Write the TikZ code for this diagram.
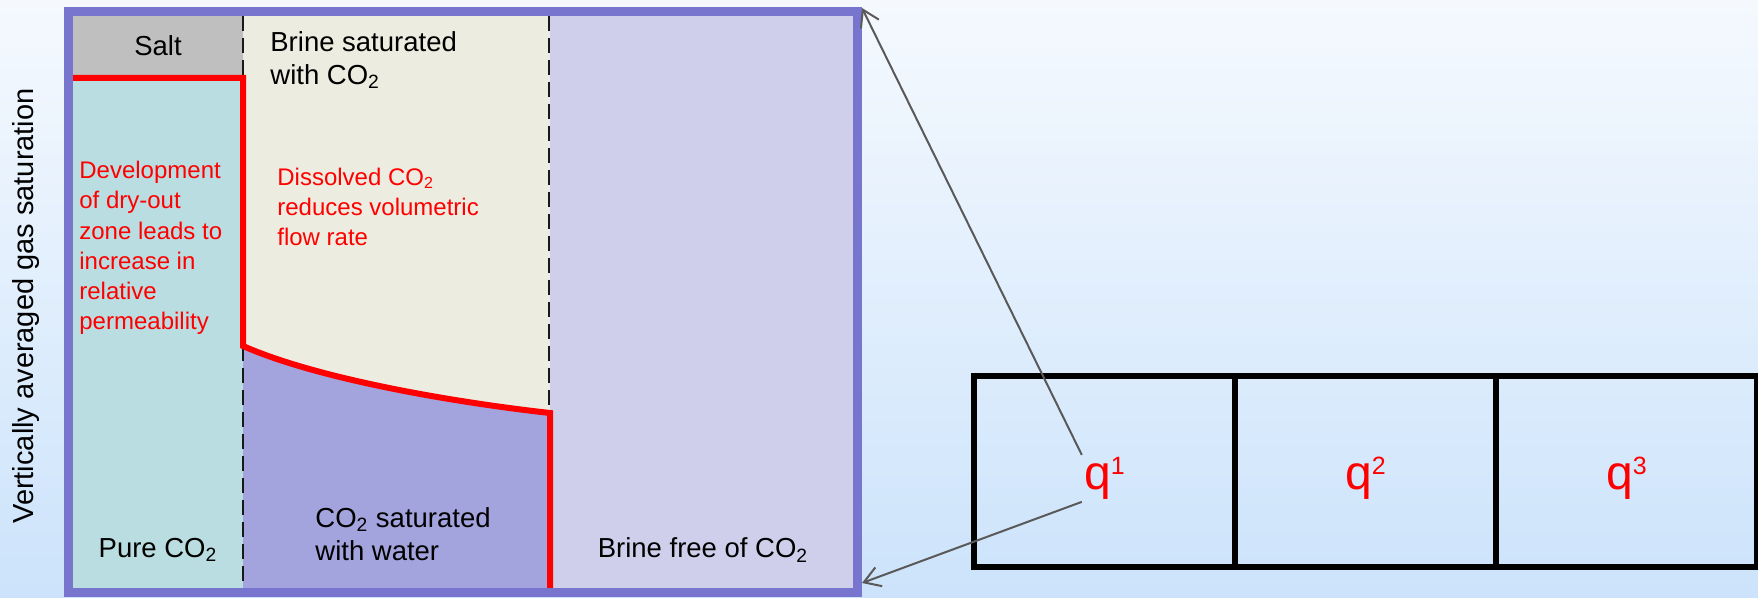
\documentclass[tikz,border=0pt]{standalone}
\usepackage{fontspec}
\setmainfont{Liberation Sans}
\usepackage{tikz}
\usetikzlibrary{arrows.meta,positioning,calc}

\definecolor{framecol}{RGB}{119,117,206}
\definecolor{saltgray}{RGB}{191,191,191}
\definecolor{pureco}{RGB}{185,221,224}
\definecolor{brinesat}{RGB}{236,236,224}
\definecolor{cosat}{RGB}{163,163,221}
\definecolor{brinefree}{RGB}{207,207,236}
\definecolor{bgtop}{RGB}{245,249,254}
\definecolor{bgbot}{RGB}{204,227,251}
\definecolor{arrowgray}{RGB}{89,89,89}

\newcommand{\COtwo}{CO\textsubscript{2}}
\newcommand{\qlab}[1]{q\raisebox{7.5pt}{\fontsize{12.5}{12.5}\selectfont #1}}

\tikzset{>={Straight Barb[length=8pt,width=10pt]}}

\begin{document}
\begin{tikzpicture}[x=0.5pt,y=-0.5pt,
  blacktext/.style={inner sep=0pt, font=\fontsize{13.75}{16.5}\selectfont},
  redtext/.style={inner sep=0pt, text=red, align=left, font=\fontsize{12}{15.15}\selectfont},
  boundary/.style={red, line width=3pt, line join=miter},
  divider/.style={line width=1pt, black!90, dash pattern=on 7.5pt off 3.5pt},
  cell/.style={draw, line width=3pt, minimum width=130.5pt, minimum height=95.5pt, inner sep=0pt, outer sep=0pt},
  qlabel/.style={text=red, inner sep=1pt, anchor=base, font=\fontsize{24}{24}\selectfont},
  zoomline/.style={->, arrowgray, line width=1pt}]

  % background
  \useasboundingbox (0,0) rectangle (1758,598);
  \shade[top color=bgtop, bottom color=bgbot] (0,0) rectangle (1758,598);

  % phase regions
  \fill[saltgray] (73,16) rectangle (243,78);
  \fill[pureco] (73,78) rectangle (243,588);
  \fill[brinesat] (243,16) rectangle (550,413);
  \fill[cosat] (243,346) .. controls (320,380) and (460,403) .. (550,413) -- (550,588) -- (243,588) -- cycle;
  \fill[brinefree] (550,16) rectangle (853,588);

  % dashed boundaries
  \draw[divider] (243,16) -- (243,588);
  \draw[divider] (549,16) -- (549,413);

  % gas saturation profile
  \draw[boundary] (73,78) -- (243,78) -- (243,346) .. controls (320,380) and (460,403) .. (550,413) -- (550,588);

  % frame
  \draw[framecol, line width=4.5pt] (68,12) rectangle (857.5,593);

  \node[blacktext] (salt) at (158,46) {Salt};
  \node[blacktext, align=left, anchor=west] (brinesat) at (270,60) {Brine saturated\\with \COtwo};
  \node[redtext, anchor=west] (dryout) at (79,248) {Development\\of dry-out\\zone leads to\\increase in\\relative\\permeability};
  \node[redtext, anchor=west] (dissolved) at (277,207) {Dissolved \COtwo\\reduces volumetric\\flow rate};
  \node[blacktext] (pure) at (158,550) {Pure \COtwo};
  \node[blacktext, align=left, anchor=west] (cosatlabel) at (315,534) {\COtwo{} saturated\\with water};
  \node[blacktext] (brinefreelabel) at (703,550) {Brine free of \COtwo};
  \node[blacktext, rotate=90, font=\fontsize{14.5}{16.5}\selectfont] (ylabel) at (26,306) {Vertically averaged gas saturation};

  % grid cells
  \node[cell] (cell1) at (1104.5,471.5) {};
  \node[cell, right=0pt of cell1] (cell2) {};
  \node[cell, right=0pt of cell2] (cell3) {};
  \node[qlabel, yshift=-9pt] (q1) at (cell1) {\qlab{1}};
  \node[qlabel, yshift=-9pt] (q2) at (cell2) {\qlab{2}};
  \node[qlabel, yshift=-9pt] (q3) at (cell3) {\qlab{3}};

  % zoom connectors
  \coordinate (frametop) at (862,8);
  \coordinate (framebot) at (862,583);
  \draw[zoomline] (q1.north west) -- (frametop);
  \draw[zoomline] (q1.south west) -- (framebot);
\end{tikzpicture}
\end{document}
